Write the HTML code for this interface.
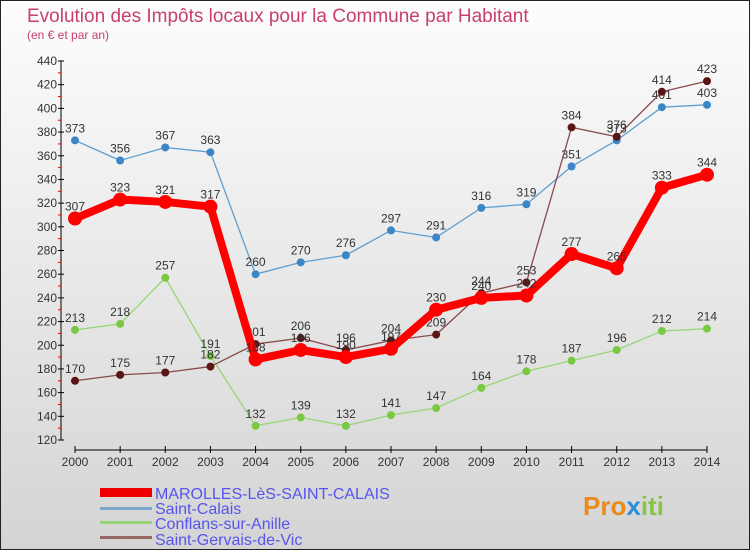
<!DOCTYPE html>
<html><head><meta charset="utf-8"><style>
body{margin:0}
svg{display:block;font-family:"Liberation Sans",sans-serif}
</style></head><body>
<svg id="c" width="750" height="550" viewBox="0 0 750 550">
<defs><linearGradient id="bg" x1="0" y1="0" x2="0" y2="1"><stop offset="0" stop-color="#fdfdfd"/><stop offset="1" stop-color="#d4d4d4"/></linearGradient></defs>
<rect x="0.5" y="0.5" width="749" height="549" fill="url(#bg)" stroke="#222"/>
<text x="27" y="22" font-size="19" fill="#c8406a">Evolution des Impôts locaux pour la Commune par Habitant</text>
<text x="27" y="39" font-size="12" fill="#c8406a">(en € et par an)</text>
<g id="axes"></g><g id="series"></g>
<g>
<rect x="100" y="488" width="52" height="9" fill="#e00"/>
<text x="155" y="499" font-size="16" fill="#5555ee">MAROLLES-LèS-SAINT-CALAIS</text>
<rect x="100" y="507" width="52" height="3" fill="#7aa8cc"/>
<text x="155" y="514" font-size="16" fill="#5555ee">Saint-Calais</text>
<rect x="100" y="521" width="52" height="3" fill="#99d577"/>
<text x="155" y="529" font-size="16" fill="#5555ee">Conflans-sur-Anille</text>
<rect x="100" y="536" width="52" height="3" fill="#996666"/>
<text x="155" y="545" font-size="16" fill="#5555ee">Saint-Gervais-de-Vic</text>
</g>
<text x="583" y="515" font-size="26" font-weight="bold" fill="#e98a1b">Pro<tspan fill="#2a8fd8">x</tspan><tspan fill="#8bc34a">iti</tspan></text>
</svg>
<script>
const years=[2000,2001,2002,2003,2004,2005,2006,2007,2008,2009,2010,2011,2012,2013,2014];
const yTicks=[120,140,160,180,200,220,240,260,280,300,320,340,360,380,400,420,440];
const marolles=[307,323,321,317,188,196,190,197,230,240,242,277,265,333,344];
const saintCalais=[373,356,367,363,260,270,276,297,291,316,319,351,373,401,403];
const conflans=[213,218,257,191,132,139,132,141,147,164,178,187,196,212,214];
const saintGervais=[170,175,177,182,201,206,196,204,209,244,253,384,376,414,423];
const NS="http://www.w3.org/2000/svg";
const X=i=>75+i*(707-75)/(years.length-1);
const Y=v=>440-(v-120)*(440-61)/320;
function mk(t,a,p){const e=document.createElementNS(NS,t);for(const k in a)e.setAttribute(k,a[k]);p.appendChild(e);return e;}
const ax=document.getElementById('axes');
let e=mk('line',{x1:61,y1:Y(440),x2:61,y2:Y(120),stroke:'#000'},ax);


e=mk('line',{x1:75,y1:450,x2:707,y2:450,stroke:'#000'},ax);


yTicks.forEach((v,i)=>{
  mk('line',{x1:58,y1:Y(v),x2:64,y2:Y(v),stroke:'#000'},ax);
  if(i<yTicks.length-1)mk('line',{x1:58,y1:Y(v+10),x2:61,y2:Y(v+10),stroke:'#e00'},ax);
  const t=mk('text',{x:57,y:Y(v)+4,'font-size':12,'text-anchor':'end',fill:'#333'},ax);t.textContent=v;
  
  
});
years.forEach((y,i)=>{
  mk('line',{x1:X(i),y1:446,x2:X(i),y2:453,stroke:'#000'},ax);
  const t=mk('text',{x:X(i),y:466,'font-size':12,'text-anchor':'middle',fill:'#333'},ax);t.textContent=y;
  
  
});
const sg=document.getElementById('series');
function draw(vals,name,col,w,r,dot){
  const g=mk('g',{},sg);
  
  
  const l=mk('polyline',{points:vals.map((v,i)=>X(i)+','+Y(v)).join(' '),fill:'none',stroke:col,'stroke-width':w,'stroke-linejoin':'round'},g);
  
  
  vals.forEach((v,i)=>{
    const c=mk('circle',{cx:X(i),cy:Y(v),r:r,fill:dot},g);
    
    
    const t=mk('text',{x:X(i),y:Y(v)-8,'font-size':12,'text-anchor':'middle',fill:'#333'},g);t.textContent=v;
    
    
  });
}
draw(saintCalais,'saint-calais','#5f9fd0',1.3,4,'#3d86c6');
draw(conflans,'conflans','#99d577',1.3,4,'#7ac943');
draw(saintGervais,'saint-gervais','#8a4a4a',1.3,4,'#5a1515');
draw(marolles,'marolles','#f00',8,7,'#f00');
</script>
</body></html>
